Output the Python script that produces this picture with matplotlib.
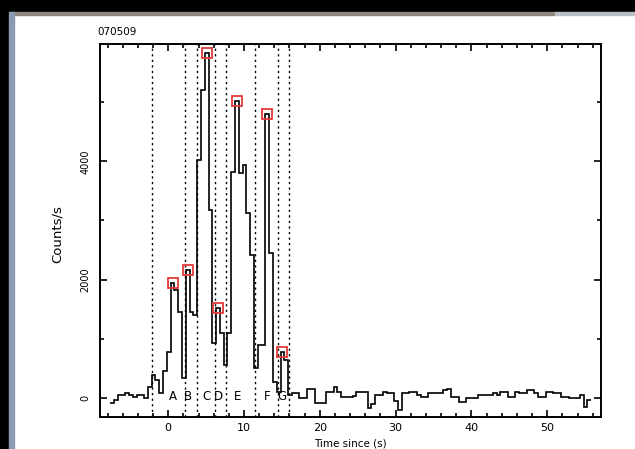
import numpy as np
import matplotlib.pyplot as plt
from matplotlib.patches import Rectangle
from matplotlib.ticker import MultipleLocator

# light curve binned at 0.5 s, background subtracted (counts/s)
BIN_WIDTH = 0.5
T_START = -7.682

counts = [
    # pre-burst
    -90, -35, 50, 50, 90, 50, 20, 50, 50, -5, 180, 390, 300, 90, 450, 780,
    # burst
    1950, 1820, 1460, 340, 2160, 1460, 1400, 4020, 5200, 5820, 3170, 930,
    1520, 1100, 560, 1100, 3820, 5010, 3800, 3930, 3120, 2420, 510, 900,
    900, 4800, 2450, 280, 110, 780, 650, 50,
    # tail / background
    80, 80, -5, -5, 160, 160, -90, -90, -80, 110, 110, 190, 110, 20, 20, 20,
    40, 110, 110, 110, -170, -100, 50, 50, 110, 80, 80, -50, -200, 80, 80,
    110, 110, 50, 20, 20, 80, 80, 80, 80, 135, 160, 20, 20, -60, -60, -5,
    -5, -5, 50, 50, 50, 50, 80, 50, 110, 110, 20, 20, 110, 80, 80, 135, 135,
    80, 20, 20, 110, 110, 80, 80, 20, 20, -5, -5, -5, 50, -145, -35,
]

# pulse boundaries (s) and pulse names
boundaries = [-2.15, 2.15, 3.8, 6.2, 7.6, 11.5, 14.5, 15.9]
pulse_names = ["A", "B", "C", "D", "E", "F", "G"]
pulse_label_t = [0.6, 2.6, 5.0, 6.6, 9.1, 13.0, 15.0]
# index of the peak bin in each pulse (counted from the first burst bin)
peak_bins = [0, 4, 9, 12, 17, 25, 29]
FIRST_BURST_BIN = 16

counts = np.array(counts, dtype=float)
edges = T_START + BIN_WIDTH * np.arange(len(counts) + 1)
centers = 0.5 * (edges[:-1] + edges[1:])

plt.rcParams.update({
    "font.family": "DejaVu Sans",
    "font.size": 8.5,
})

W, H = 635, 449
fig = plt.figure(figsize=(W / 100, H / 100), dpi=100)
fig.patch.set_facecolor("white")

# window frame
fig.add_artist(Rectangle((0, 1 - 12 / H), 1, 12 / H, transform=fig.transFigure,
                         color="black", zorder=5))
fig.add_artist(Rectangle((10 / W, 1 - 15 / H), 545 / W, 3 / H, transform=fig.transFigure,
                         color="#8d8780", zorder=5))
fig.add_artist(Rectangle((555 / W, 1 - 15 / H), 1, 3 / H, transform=fig.transFigure,
                         color="#b9bdc4", zorder=5))
fig.add_artist(Rectangle((0, 0), 9 / W, 1, transform=fig.transFigure,
                         color="black", zorder=5))
fig.add_artist(Rectangle((9 / W, 0), 5 / W, 1 - 12 / H, transform=fig.transFigure,
                         color="#8a9ab0", zorder=5))

ax = fig.add_axes([100 / W, (H - 416.5) / H, 501 / W, 372.5 / H])
ax.set_xlim(-9, 57.1)
ax.set_ylim(-310, 5980)

ax.stairs(counts, edges, baseline=None, color="black", lw=1.2, zorder=3)

for t in boundaries:
    ax.axvline(t, color="black", lw=1.0, ls=(0, (1.6, 2.4)), zorder=2)

for name, t in zip(pulse_names, pulse_label_t):
    ax.text(t, 30, name, ha="center", va="center", fontsize=8.5, zorder=4)

idx = np.array(peak_bins) + FIRST_BURST_BIN
ax.plot(centers[idx], counts[idx], ls="none", marker="s", ms=6.5, mfc="none",
        mec="#e23a3c", mew=1.3, zorder=4)

ax.xaxis.set_major_locator(MultipleLocator(10))
ax.xaxis.set_minor_locator(MultipleLocator(2))
ax.yaxis.set_major_locator(MultipleLocator(2000))
ax.yaxis.set_minor_locator(MultipleLocator(1000))
ax.tick_params(which="both", direction="in", top=True, right=True, width=1.2)
ax.tick_params(which="major", length=5)
ax.tick_params(which="minor", length=3)
ax.tick_params(axis="x", pad=5, labelsize=8)
ax.tick_params(axis="y", pad=7, labelsize=7)
plt.setp(ax.get_yticklabels(), rotation=90, va="center")
for sp in ax.spines.values():
    sp.set_linewidth(1.4)

fig.text(57 / W, 1 - 234 / H, "Counts/s", rotation=90, ha="center", va="center",
         fontsize=9.5)
fig.text(350 / W, 0.3 / H, "Time since (s)", ha="center", va="bottom", fontsize=7.5)
fig.text(97 / W, (H - 32) / H, "070509", ha="left", va="center", fontsize=7.5)

fig.savefig("out.png", dpi=100)
